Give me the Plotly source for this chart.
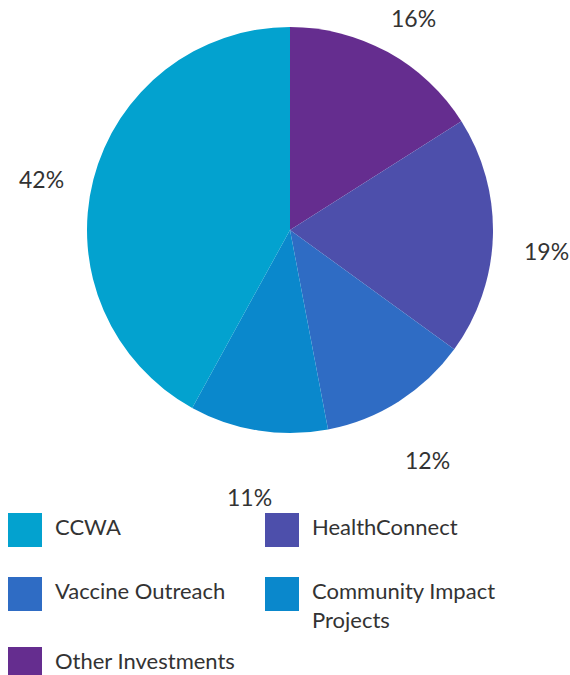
import math
import plotly.graph_objects as go

# Data (legend order)
categories = ["CCWA", "HealthConnect", "Vaccine Outreach", "Community Impact Projects", "Other Investments"]
legend_text = ["CCWA", "HealthConnect", "Vaccine Outreach", "Community Impact<br>Projects", "Other Investments"]
shares = [42, 19, 12, 11, 16]
colors = ["#03a2cf", "#4d4fab", "#2f6cc4", "#0a88cc", "#652d8f"]

# Pie drawing order (clockwise from 12 o'clock)
pie_order = ["Other Investments", "HealthConnect", "Vaccine Outreach", "Community Impact Projects", "CCWA"]

W, H = 570, 675
idx = [categories.index(c) for c in pie_order]
pie_vals = [shares[i] for i in idx]
pie_cols = [colors[i] for i in idx]

# pie geometry in pixels
cx, cy, R = 290, 230, 203
fig = go.Figure(go.Pie(
    labels=pie_order,
    values=pie_vals,
    marker=dict(colors=pie_cols, line=dict(width=0)),
    sort=False,
    direction="clockwise",
    rotation=0,
    textinfo="none",
    hoverinfo="label+percent",
    showlegend=False,
    domain=dict(x=[(cx - R - 2) / W, (cx + R + 2) / W], y=[1 - (cy + R) / H, 1 - (cy - R) / H]),
))

annotations = []
shapes = []
font = "Lato, 'Open Sans', sans-serif"

# percentage labels around the pie
total = sum(pie_vals)
cum = 0
lab_r = 257
for v in pie_vals:
    mid = (cum + v / 2) / total * 2 * math.pi
    cum += v
    px = cx + lab_r * math.sin(mid)
    py = cy - lab_r * math.cos(mid) + 13
    annotations.append(dict(
        x=px / W, y=1 - py / H, xref="paper", yref="paper",
        text=f"{round(v / total * 100)}%", showarrow=False,
        xanchor="center", yanchor="middle",
        font=dict(family=font, size=23, color="#333333"),
    ))

# custom legend (2 columns)
col_x = [8, 265]
row_y = [513, 577, 647]
sq = 34
for k, (name, col) in enumerate(zip(legend_text, colors)):
    c, r = k % 2, k // 2
    x0, y0 = col_x[c], row_y[r]
    shapes.append(dict(type="rect", xref="paper", yref="paper",
                       x0=x0 / W, x1=(x0 + sq) / W, y0=1 - y0 / H, y1=1 - (y0 + sq) / H,
                       fillcolor=col, line=dict(width=0)))
    annotations.append(dict(
        x=(x0 + sq + 11) / W, y=1 - (y0 - 2) / H, xref="paper", yref="paper",
        text=name, showarrow=False, xanchor="left", yanchor="top", align="left",
        font=dict(family=font, size=22, color="#333333"),
    ))

fig.update_layout(
    width=W, height=H,
    margin=dict(l=0, r=0, t=0, b=0),
    paper_bgcolor="white", plot_bgcolor="white",
    annotations=annotations, shapes=shapes,
)

fig.write_html("out.html", config={"displayModeBar": False},
               post_script="document.body.style.margin='0';document.body.style.overflow='hidden';")
